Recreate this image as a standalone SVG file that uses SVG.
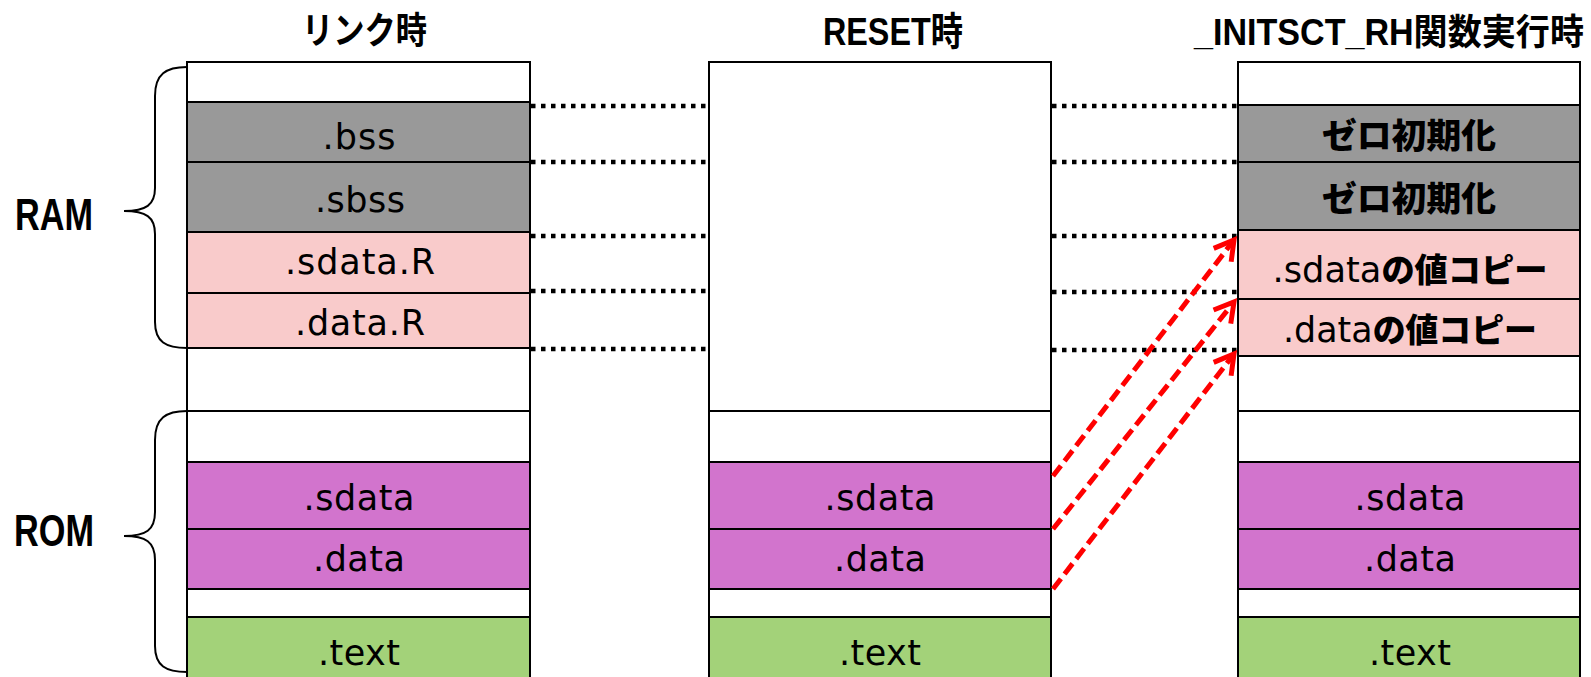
<svg xmlns="http://www.w3.org/2000/svg" width="1591" height="677" viewBox="0 0 1591 677">
<defs>
<style>
.cell{stroke:#000;stroke-width:2}
.w{fill:#fff}
.g{fill:#999999}
.p{fill:#f9cbcb}
.m{fill:#d274cd}
.t{fill:#a3d279}
.lbl{font-family:"DejaVu Sans","Noto Sans CJK JP",sans-serif;font-size:35px;fill:#000;text-anchor:middle}
.bj{font-family:"Noto Sans CJK JP",sans-serif;font-weight:900;fill:#000}
.title{font-family:"Liberation Sans","Noto Sans CJK JP",sans-serif;font-weight:bold;fill:#000}
.dot{stroke:#000;stroke-width:4.5;stroke-dasharray:4.5 5.5;fill:none}
.red{stroke:#ff0000;stroke-width:5;stroke-dasharray:13 6;fill:none}
.brace{fill:none;stroke:#000;stroke-width:2}
</style>
<marker id="ah" markerUnits="userSpaceOnUse" markerWidth="34" markerHeight="34" refX="22" refY="13" orient="auto" overflow="visible">
<path d="M3,2 L22,13 L3,24" fill="none" stroke="#ff0000" stroke-width="5" stroke-dasharray="none"/>
</marker>
</defs>
<rect width="1591" height="677" fill="#fff"/>

<g id="titles">
<text class="title" x="302" y="44" font-size="37" textLength="125" lengthAdjust="spacingAndGlyphs">リンク時</text>
<text class="title" x="823" y="45" font-size="39" textLength="140" lengthAdjust="spacingAndGlyphs">RESET時</text>
<text class="title" x="1584" y="45" font-size="36" text-anchor="end" textLength="390" lengthAdjust="spacingAndGlyphs">_INITSCT_RH関数実行時</text>
</g>

<g id="ram-label">
<path class="brace" d="M187,67 C166,67 155,74 155,96 L155,188 C155,205 146,211 124,211 C146,211 155,217 155,234 L155,322 C155,342 166,348 187,348"/>
<text class="title" x="15" y="230" font-size="45" textLength="78" lengthAdjust="spacingAndGlyphs">RAM</text>
</g>
<g id="rom-label">
<path class="brace" d="M187,411 C166,411 155,418 155,440 L155,512 C155,530 146,536 124,536 C146,536 155,542 155,560 L155,646 C155,666 166,672 187,672"/>
<text class="title" x="14" y="546" font-size="45" textLength="80" lengthAdjust="spacingAndGlyphs">ROM</text>
</g>

<g id="col-link">
<rect class="cell w" x="187" y="62" width="343" height="40"/>
<rect class="cell g" x="187" y="102" width="343" height="60"/>
<rect class="cell g" x="187" y="162" width="343" height="70"/>
<rect class="cell p" x="187" y="232" width="343" height="61"/>
<rect class="cell p" x="187" y="293" width="343" height="55"/>
<rect class="cell w" x="187" y="348" width="343" height="63"/>
<rect class="cell w" x="187" y="411" width="343" height="51"/>
<rect class="cell m" x="187" y="462" width="343" height="67"/>
<rect class="cell m" x="187" y="529" width="343" height="60"/>
<rect class="cell w" x="187" y="589" width="343" height="28"/>
<rect class="cell t" x="187" y="617" width="343" height="80"/>
<text class="lbl" x="359" y="149" textLength="73">.bss</text>
<text class="lbl" x="360" y="212" textLength="90">.sbss</text>
<text class="lbl" x="360" y="274" textLength="150">.sdata.R</text>
<text class="lbl" x="360" y="335" textLength="130">.data.R</text>
<text class="lbl" x="359" y="510" textLength="111">.sdata</text>
<text class="lbl" x="359" y="571" textLength="92">.data</text>
<text class="lbl" x="359" y="665" textLength="82">.text</text>
</g>

<g id="col-reset">
<rect class="cell w" x="709" y="62" width="342" height="349"/>
<rect class="cell w" x="709" y="411" width="342" height="51"/>
<rect class="cell m" x="709" y="462" width="342" height="67"/>
<rect class="cell m" x="709" y="529" width="342" height="60"/>
<rect class="cell w" x="709" y="589" width="342" height="28"/>
<rect class="cell t" x="709" y="617" width="342" height="80"/>
<text class="lbl" x="880" y="510" textLength="111">.sdata</text>
<text class="lbl" x="880" y="571" textLength="92">.data</text>
<text class="lbl" x="880" y="665" textLength="82">.text</text>
</g>

<g id="col-init">
<rect class="cell w" x="1238" y="62" width="342" height="43"/>
<rect class="cell g" x="1238" y="105" width="342" height="57"/>
<rect class="cell g" x="1238" y="162" width="342" height="68"/>
<rect class="cell p" x="1238" y="230" width="342" height="69"/>
<rect class="cell p" x="1238" y="299" width="342" height="57"/>
<rect class="cell w" x="1238" y="356" width="342" height="55"/>
<rect class="cell w" x="1238" y="411" width="342" height="51"/>
<rect class="cell m" x="1238" y="462" width="342" height="67"/>
<rect class="cell m" x="1238" y="529" width="342" height="60"/>
<rect class="cell w" x="1238" y="589" width="342" height="28"/>
<rect class="cell t" x="1238" y="617" width="342" height="80"/>
<text class="bj" x="1409" y="148" font-size="34" text-anchor="middle" textLength="174" lengthAdjust="spacingAndGlyphs">ゼロ初期化</text>
<text class="bj" x="1409" y="211" font-size="34" text-anchor="middle" textLength="174" lengthAdjust="spacingAndGlyphs">ゼロ初期化</text>
<text x="1410" y="282" text-anchor="middle" textLength="275" lengthAdjust="spacingAndGlyphs"><tspan class="lbl" font-size="31">.sdata</tspan><tspan class="bj" font-size="33">の値コピー</tspan></text>
<text x="1410" y="342" text-anchor="middle" textLength="254" lengthAdjust="spacingAndGlyphs"><tspan class="lbl" font-size="31">.data</tspan><tspan class="bj" font-size="33">の値コピー</tspan></text>
<text class="lbl" x="1410" y="510" textLength="111">.sdata</text>
<text class="lbl" x="1410" y="571" textLength="92">.data</text>
<text class="lbl" x="1410" y="665" textLength="82">.text</text>
</g>

<g id="connectors">
<line class="dot" x1="531" y1="106" x2="708" y2="106"/>
<line class="dot" x1="531" y1="162" x2="708" y2="162"/>
<line class="dot" x1="531" y1="236" x2="708" y2="236"/>
<line class="dot" x1="531" y1="291" x2="708" y2="291"/>
<line class="dot" x1="531" y1="349" x2="708" y2="349"/>
<line class="dot" x1="1052" y1="106" x2="1237" y2="106"/>
<line class="dot" x1="1052" y1="162" x2="1237" y2="162"/>
<line class="dot" x1="1052" y1="236" x2="1237" y2="236"/>
<line class="dot" x1="1052" y1="292" x2="1237" y2="292"/>
<line class="dot" x1="1052" y1="350" x2="1237" y2="350"/>
<line class="red" x1="1053" y1="476" x2="1234" y2="240" marker-end="url(#ah)"/>
<line class="red" x1="1053" y1="529" x2="1234" y2="302" marker-end="url(#ah)"/>
<line class="red" x1="1053" y1="589" x2="1234" y2="354" marker-end="url(#ah)"/>
</g>
</svg>
